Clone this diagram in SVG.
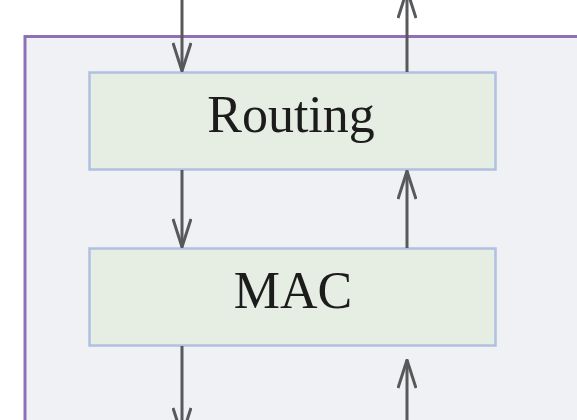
<svg xmlns="http://www.w3.org/2000/svg" width="577" height="420" viewBox="0 0 577 420">
<defs>
<style>
.layer{fill:#e6eee3;stroke:#b0c0e2;stroke-width:2.5}
.lbl{font-family:"Liberation Serif","Times New Roman",serif;font-size:52px;fill:#1c1c1c;text-anchor:middle}
.conn{stroke:#58595b;stroke-width:3;fill:none}
</style>
<marker id="ah" viewBox="0 0 30 20" refX="29" refY="10" markerWidth="30" markerHeight="20" markerUnits="userSpaceOnUse" orient="auto">
<path d="M1,1 L29,10 L1,19" fill="none" stroke="#58595b" stroke-width="3"/>
</marker>
</defs>
<rect width="577" height="420" fill="#ffffff"/>
<g id="container">
<rect x="25" y="36.5" width="600" height="420" fill="#f0f1f4" stroke="#8e70b8" stroke-width="3"/>
</g>
<g id="routing">
<rect class="layer" x="89.5" y="72.5" width="406" height="97"/>
<text class="lbl" x="291" y="132">Routing</text>
</g>
<g id="mac">
<rect class="layer" x="89.5" y="248.5" width="406" height="97"/>
<text class="lbl" x="293" y="308">MAC</text>
</g>
<g id="connectors">
<path class="conn" d="M182,0 V71" marker-end="url(#ah)"/>
<path class="conn" d="M182,170 V247" marker-end="url(#ah)"/>
<path class="conn" d="M182,346 V436" marker-end="url(#ah)"/>
<path class="conn" d="M407,72 V-10" marker-end="url(#ah)"/>
<path class="conn" d="M407,248 V171" marker-end="url(#ah)"/>
<path class="conn" d="M407,430 V360" marker-end="url(#ah)"/>
</g>
</svg>
